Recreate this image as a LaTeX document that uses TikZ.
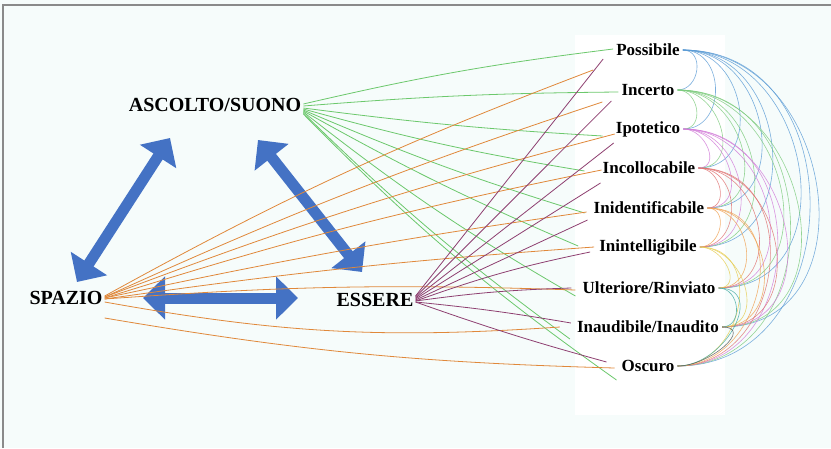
\documentclass[tikz,border=0pt]{standalone}
\usepackage{fontspec}
\setmainfont{Liberation Serif}
\usetikzlibrary{arrows.meta}
\definecolor{bgc}{HTML}{F6FCFB}
\definecolor{framec}{HTML}{8A8A8A}
\definecolor{bluearrow}{HTML}{4472C4}
\definecolor{gline}{HTML}{6CC86C}
\definecolor{oline}{HTML}{E0883A}
\definecolor{pline}{HTML}{8E3F70}
\definecolor{c1}{HTML}{5A9BD5}
\definecolor{c2}{HTML}{7CCB7C}
\definecolor{c3}{HTML}{D27AD8}
\definecolor{c4}{HTML}{E07070}
\definecolor{c5}{HTML}{F0A050}
\definecolor{c6}{HTML}{E6CC50}
\definecolor{c7}{HTML}{3FA8A0}
\definecolor{c8}{HTML}{555555}
\definecolor{c9}{HTML}{5A9BD5}
\tikzset{
  bigtxt/.style={font=\fontsize{20}{24}\selectfont\bfseries, inner sep=2pt},
  smalltxt/.style={font=\fontsize{17}{20}\selectfont\bfseries, inner sep=3pt},
  bigarrow/.style={bluearrow, line width=11pt,
     {Triangle[length=22pt,width=42pt]}-{Triangle[length=22pt,width=42pt]}},
  gconn/.style={gline, line width=0.8pt},
  oconn/.style={oline, line width=0.8pt},
  pconn/.style={pline, line width=0.8pt},
  arcl/.style={line width=0.6pt, opacity=0.8}
}
\begin{document}
\begin{tikzpicture}[x=1pt,y=-1pt]
\fill[bgc] (0,0) rectangle (831,448);
\useasboundingbox (0,0) rectangle (831,448);
\fill[white] (575,35) rectangle (725,415);
\draw[framec, line width=1.5pt] (3,448) -- (3,5) -- (831,5);

% main nodes
\node[bigtxt] (asc) at (215,105) {ASCOLTO/SUONO};
\node[bigtxt] (spa) at (66,298) {SPAZIO};
\node[bigtxt] (ess) at (375,300) {ESSERE};

% right labels
\node[smalltxt] (p1) at (648,50) {Possibile};
\node[smalltxt] (p2) at (648,90) {Incerto};
\node[smalltxt] (p3) at (648,129) {Ipotetico};
\node[smalltxt] (p4) at (649,168) {Incollocabile};
\node[smalltxt] (p5) at (649,208) {Inidentificabile};
\node[smalltxt] (p6) at (648,247) {Inintelligibile};
\node[smalltxt] (p7) at (649,288) {Ulteriore/Rinviato};
\node[smalltxt] (p8) at (648,327) {Inaudibile/Inaudito};
\node[smalltxt] (p9) at (648,366) {Oscuro};

% blue arrows
\coordinate (a1s) at (77,282);
\coordinate (a1e) at (170,138);
\coordinate (a2s) at (258,140);
\coordinate (a2e) at (362,272);
\coordinate (a3s) at (143,298);
\coordinate (a3e) at (298,298);
\draw[bigarrow] (a1s) -- (a1e);
\draw[bigarrow] (a2s) -- (a2e);
\draw[bigarrow] (a3s) -- (a3e);

% green from ASCOLTO/SUONO  (yshift negative = downwards on page)
\draw[gconn] ([yshift=1pt]asc.east) to[bend left=3] ([yshift=1pt]p1.west);
\draw[gconn] ([yshift=-1pt]asc.east) to[bend left=2] ([yshift=-2pt]p2.west);
\draw[gconn] ([yshift=-3pt]asc.east) to[bend right=2] ([xshift=-10pt,yshift=-7pt]p3.west);
\draw[gconn] ([yshift=-4pt]asc.east) to[bend right=3] ([xshift=-15pt,yshift=-3pt]p4.west);
\draw[gconn] ([yshift=-5pt]asc.east) to[bend right=3] ([xshift=-6pt,yshift=-5pt]p5.west);
\draw[gconn] ([yshift=-6pt]asc.east) to[bend right=3] ([xshift=-18pt,yshift=1pt]p6.west);
\draw[gconn] ([yshift=-7pt]asc.east) to[bend right=4] ([xshift=-4pt,yshift=-8pt]p7.west);
\draw[gconn] ([yshift=-8pt]asc.east) to[bend right=4] ([xshift=-4pt,yshift=-12pt]p8.west);
\draw[gconn] ([yshift=-9pt]asc.east) to[bend right=5] ([xshift=-2pt,yshift=-14pt]p9.west);

% orange from SPAZIO
\draw[oconn] ([yshift=2pt]spa.east) to[bend left=4] ([xshift=-20pt,yshift=-20pt]p1.west);
\draw[oconn] ([yshift=1pt]spa.east) to[bend left=3] ([xshift=-16pt,yshift=-12pt]p2.west);
\draw[oconn] ([yshift=1pt]spa.east) to[bend left=3] ([xshift=2pt,yshift=-5pt]p3.west);
\draw[oconn] ([yshift=0pt]spa.east) to[bend left=3] ([xshift=2pt,yshift=-2pt]p4.west);
\draw[oconn] ([yshift=0pt]spa.east) to[bend left=2] ([xshift=-4pt,yshift=-4pt]p5.west);
\draw[oconn] ([yshift=-1pt]spa.east) to[bend left=2] ([xshift=-2pt,yshift=0pt]p6.west);
\draw[oconn] ([yshift=-1pt]spa.east) to[bend left=3] ([xshift=-4pt,yshift=-2pt]p7.west);
\draw[oconn] ([yshift=-4pt]spa.east) to[bend right=7] ([xshift=-14pt]p8.west);
\draw[oconn] ([yshift=-20pt]spa.east) to[bend right=4] ([xshift=-4pt,yshift=-2pt]p9.west);

% purple from ESSERE
\draw[pconn] ([yshift=4pt]ess.east) -- ([xshift=-10pt,yshift=-9pt]p1.west);
\draw[pconn] ([yshift=3pt]ess.east) -- ([xshift=-7pt,yshift=-11pt]p2.west);
\draw[pconn] ([yshift=2pt]ess.east) -- ([xshift=1pt,yshift=-14pt]p3.west);
\draw[pconn] ([yshift=1pt]ess.east) -- ([xshift=1pt,yshift=-15pt]p4.west);
\draw[pconn] ([yshift=0pt]ess.east) -- ([xshift=-3pt,yshift=-12pt]p5.west);
\draw[pconn] ([yshift=-1pt]ess.east) to[bend left=4] ([xshift=-6pt,yshift=-5pt]p6.west);
\draw[pconn] ([yshift=-1pt]ess.east) to[bend left=3] ([xshift=-8pt]p7.west);
\draw[pconn] ([yshift=-2pt]ess.east) to[bend left=2] ([xshift=-3pt,yshift=4pt]p8.west);
\draw[pconn] ([yshift=-2pt]ess.east) to[bend right=2] ([xshift=-12pt,yshift=4pt]p9.west);

% arcs among right labels
\foreach \i in {1,...,8}{
  \pgfmathtruncatemacro{\nx}{\i+1}
  \foreach \j in {\nx,...,9}{
    \draw[arcl, draw=c\i] (p\i.east) to[out=0,in=0,looseness=1.4] (p\j.east);
  }
}
\end{tikzpicture}
\end{document}
